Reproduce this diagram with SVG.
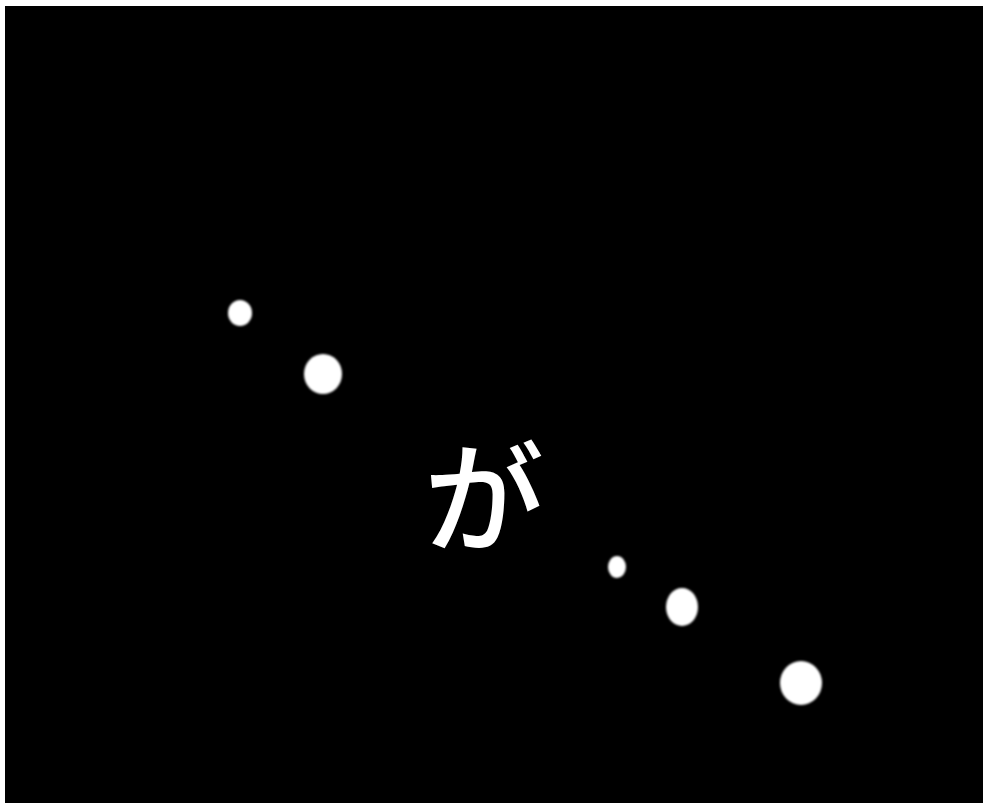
<svg xmlns="http://www.w3.org/2000/svg" width="987" height="805" viewBox="0 0 987 805">
<style>
.dot{fill:#ffffff;filter:url(#soft)}
.t{fill:#ffffff;font-family:"Noto Sans CJK JP","Noto Sans",sans-serif;font-weight:500}
</style>
<defs>
<filter id="soft" x="-50%" y="-50%" width="200%" height="200%"><feGaussianBlur stdDeviation="1"/></filter>
</defs>
<rect width="987" height="805" fill="#ffffff"/>
<rect x="5" y="6" width="978" height="797" fill="#000000"/>
<g id="dots">
<ellipse class="dot" cx="240" cy="313" rx="12" ry="13"/>
<ellipse class="dot" cx="323" cy="374" rx="19" ry="20"/>
<ellipse class="dot" cx="617" cy="567" rx="9" ry="11"/>
<ellipse class="dot" cx="682" cy="607" rx="16" ry="19"/>
<ellipse class="dot" cx="801" cy="683" rx="21" ry="22"/>
</g>
<g id="label">
<text class="t" x="424" y="543" font-size="120">が</text>
</g>
</svg>
